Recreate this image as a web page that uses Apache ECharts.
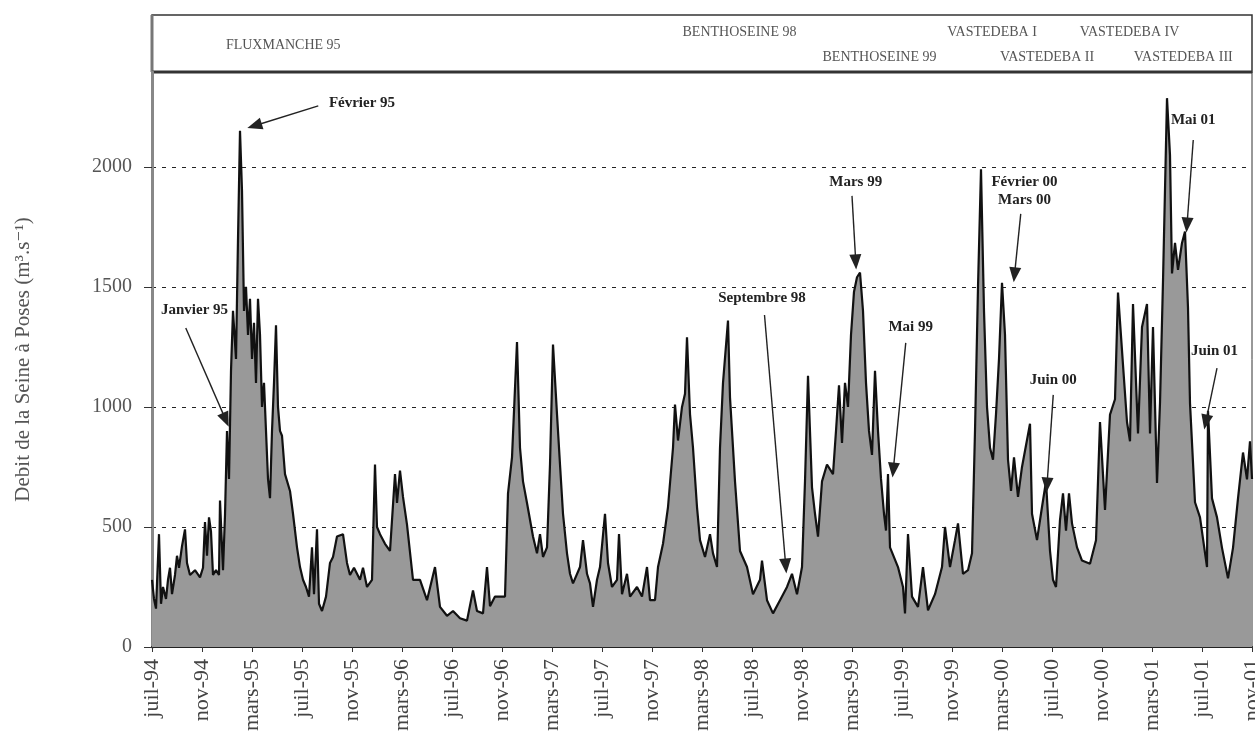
<!DOCTYPE html>
<html><head><meta charset="utf-8">
<script src="https://cdn.jsdelivr.net/npm/echarts@6/dist/echarts.min.js"></script>
<style>html,body{margin:0;padding:0;background:#fff}#c{width:1255px;height:733px}</style>
</head><body><div id="c"></div>
<script>
// x: months since July 1994 ; y: discharge of the Seine at Poses (m3/s)
const tickLabels = ['juil-94','nov-94','mars-95','juil-95','nov-95','mars-96','juil-96','nov-96','mars-97','juil-97','nov-97','mars-98','juil-98','nov-98','mars-99','juil-99','nov-99','mars-00','juil-00','nov-00','mars-01','juil-01','nov-01'];
const yTicks = [0, 500, 1000, 1500, 2000];

const months = [
0.00,0.16,0.32,0.56,0.72,0.88,1.12,1.28,1.44,1.60,1.84,2.00,2.16,2.40,2.64,2.80,3.04,3.44,3.84,4.08,4.24,4.40,4.56,4.72,4.88,5.12,5.36,5.44,5.68,5.84,
6.00,6.16,6.32,6.48,6.72,6.88,7.04,7.20,7.36,7.52,7.68,7.84,8.00,8.16,8.32,8.48,8.64,8.80,8.96,9.12,9.28,9.44,9.60,9.76,9.92,10.08,10.24,10.40,10.64,11.04,
11.28,11.60,11.84,12.08,12.32,12.56,12.80,12.96,13.20,13.36,13.60,13.92,14.24,14.48,14.80,15.28,15.60,15.84,16.16,16.64,16.88,17.20,17.60,17.84,18.00,18.24,18.64,19.04,19.44,19.60,
19.84,20.08,20.40,20.88,21.44,22.00,22.64,23.04,23.60,24.08,24.64,25.20,25.68,26.00,26.48,26.80,27.04,27.44,28.24,28.48,28.80,29.20,29.44,29.68,30.00,30.48,30.80,31.04,31.28,31.60,
31.84,32.08,32.40,32.64,32.88,33.20,33.44,33.68,34.24,34.48,34.80,35.04,35.28,35.60,35.84,36.24,36.48,36.80,37.20,37.36,37.60,38.00,38.24,38.80,39.20,39.60,39.84,40.24,40.48,40.88,
41.28,41.68,41.84,42.08,42.40,42.64,42.80,43.04,43.28,43.60,43.84,44.24,44.64,44.88,45.20,45.44,45.68,46.08,46.24,46.64,47.04,47.60,48.08,48.64,48.80,49.20,49.68,50.24,50.80,51.20,
51.60,52.00,52.24,52.48,52.80,53.04,53.28,53.60,54.00,54.48,54.72,54.96,55.20,55.44,55.68,55.92,56.16,56.40,56.64,56.88,57.12,57.36,57.60,57.84,58.08,58.32,58.56,58.72,58.88,59.04,
59.68,60.08,60.24,60.48,60.80,61.28,61.68,62.08,62.64,63.20,63.44,63.84,64.24,64.48,64.88,65.28,65.60,65.84,66.08,66.32,66.56,66.80,67.04,67.28,67.52,67.76,68.00,68.24,68.48,68.72,
68.96,69.28,69.60,70.24,70.40,70.80,71.20,71.52,71.84,72.08,72.32,72.64,72.88,73.12,73.36,73.60,74.00,74.40,75.04,75.52,75.84,76.24,76.64,77.04,77.28,77.68,78.00,78.24,78.48,78.88,
79.20,79.60,79.84,80.08,80.40,80.64,80.88,81.20,81.44,81.60,81.84,82.08,82.40,82.64,82.88,83.04,83.44,83.84,84.40,84.48,84.80,85.20,85.60,86.08,86.48,86.88,87.28,87.60,87.84,88.00
];
const flow = [
280,200,160,470,180,250,200,280,330,220,300,380,330,420,490,350,300,320,290,330,520,380,540,480,300,320,300,610,320,550,
900,700,1150,1400,1200,1700,2150,1900,1400,1500,1300,1450,1200,1350,1100,1450,1300,1000,1100,900,700,620,900,1100,1340,1000,900,880,720,650,
555,415,333,280,250,210,415,220,490,180,150,210,350,375,460,470,350,300,330,280,330,250,280,760,500,470,430,400,720,600,
735,625,510,280,280,195,333,167,130,150,120,110,236,150,140,333,170,210,210,640,790,1270,830,690,600,460,390,470,375,415,
760,1260,970,760,555,390,305,265,333,445,305,265,167,280,333,555,350,250,280,470,220,305,210,250,210,333,195,195,333,430,
583,830,1010,860,1000,1055,1290,970,830,583,445,375,470,390,333,830,1100,1360,1040,690,400,333,220,280,360,195,140,195,250,305,
220,333,690,1130,665,555,460,690,760,720,900,1090,850,1100,1000,1300,1480,1540,1560,1400,1100,900,800,1150,900,700,555,485,720,415,
333,250,140,470,210,167,333,153,220,333,500,333,445,515,305,320,390,900,1500,1990,1400,1000,830,780,970,1200,1517,1300,780,650,
790,625,750,930,555,445,583,690,400,280,250,530,640,485,640,515,415,360,347,445,937,571,968,1032,1476,1175,937,857,1429,889,
1333,1429,889,1333,683,1016,1524,2286,2048,1556,1683,1571,1683,1730,1413,1016,603,540,333,984,619,540,413,286,413,619,810,698,857,700
];

// sampling campaigns shown in the top band
const campaignNames = ['FLUXMANCHE 95','BENTHOSEINE 98','VASTEDEBA I','VASTEDEBA IV','BENTHOSEINE 99','VASTEDEBA II','VASTEDEBA III'];
const campaignMonths = [10.5, 47.0, 67.2, 78.2, 58.2, 71.6, 82.5];
const campaignRows = [0, 1, 1, 1, 2, 2, 2];

// annotations: label, label anchor (month, flow), arrow start, arrow tip
const annLabels = ['Février 95','Janvier 95','Septembre 98','Mars 99','Mai 99','Février 00\nMars 00','Juin 00','Mai 01','Juin 01'];
const annText  = [[16.8,2267],[3.4,1404],[48.8,1454],[56.3,1937],[60.7,1333],[69.8,1900],[72.1,1112],[83.3,2196],[85.0,1233]];
const annFrom  = [[13.3,2254],[2.7,1329],[49.0,1383],[56.0,1879],[60.3,1267],[69.5,1804],[72.1,1050],[83.3,2112],[85.2,1162]];
const annTip   = [[8.2,2171],[5.9,946],[50.7,337],[56.3,1604],[59.3,737],[69.0,1550],[71.6,675],[82.8,1758],[84.3,937]];

const FONT = '"Liberation Serif","DejaVu Serif",serif';
const chart = echarts.init(document.getElementById('c'), null, {renderer: 'canvas'});

const seriesData = months.map((m, i) => [m, flow[i]]);
const markLines = annTip.map((tip, i) => [{coord: annFrom[i]}, {coord: tip}]);
const markPoints = annLabels.map((t, i) => ({
  coord: annText[i], value: t, symbol: 'circle', symbolSize: 0,
  label: {show: true, formatter: t, position: 'inside', fontFamily: FONT, fontWeight: 'bold',
          fontSize: 15, color: '#222', lineHeight: 18}
}));

chart.setOption({
  animation: false,
  backgroundColor: '#fff',
  grid: {left: 152, right: 3, top: 72, bottom: 86, show: true, borderColor: '#333', borderWidth: 1,
         containLabel: false, outerBoundsMode: 'none'},
  xAxis: {
    type: 'value', min: 0, max: 88, interval: 4,
    axisLine: {show: true, onZero: false, lineStyle: {color: '#222', width: 2}},
    axisTick: {show: true, length: 5, lineStyle: {color: '#333'}},
    splitLine: {show: false},
    axisLabel: {rotate: 90, margin: 12, fontFamily: FONT, fontSize: 22, color: '#444',
      formatter: v => tickLabels[Math.round(v / 4)] || ''}
  },
  yAxis: {
    type: 'value', min: 0, max: 2395, interval: 500,
    name: 'Debit de la Seine à Poses (m³.s⁻¹)', nameLocation: 'middle', nameGap: 118,
    nameTextStyle: {fontFamily: FONT, fontSize: 21, color: '#555'},
    axisLine: {show: true, lineStyle: {color: '#888', width: 3}},
    axisTick: {show: true, length: 8, lineStyle: {color: '#333'}},
    axisLabel: {showMaxLabel: false, margin: 20, fontFamily: FONT, fontSize: 20, color: '#555',
      formatter: v => (yTicks.indexOf(v) >= 0 ? String(v) : '')},
    splitLine: {show: true, lineStyle: {color: '#222', width: 1.2, type: [4, 6]}}
  },
  series: [{
    type: 'line', data: seriesData, showSymbol: false, symbol: 'none',
    lineStyle: {color: '#111', width: 2.2},
    areaStyle: {color: '#999999', opacity: 1},
    z: 2,
    markLine: {
      silent: true, symbol: ['none', 'triangle'], symbolSize: [12, 15],
      lineStyle: {color: '#222', width: 1.4, type: 'solid'},
      label: {show: false}, data: markLines, animation: false
    },
    markPoint: {silent: true, data: markPoints, animation: false}
  }]
});

// top band with the campaign names
const rowY = [45, 32, 57];
const g = [
  {type: 'rect', shape: {x: 152, y: 15, width: 1100, height: 57}, style: {fill: '#fff', stroke: '#333', lineWidth: 1.5}},
  {type: 'line', shape: {x1: 152, y1: 15, x2: 152, y2: 72}, style: {stroke: '#777', lineWidth: 3}},
  {type: 'line', shape: {x1: 152, y1: 72, x2: 1252, y2: 72}, style: {stroke: '#333', lineWidth: 3}}
];
campaignNames.forEach((n, i) => {
  const px = chart.convertToPixel({gridIndex: 0}, [campaignMonths[i], 0])[0];
  g.push({type: 'text', x: px, y: rowY[campaignRows[i]],
    style: {text: n, fill: '#555', font: '14px ' + FONT, textAlign: 'center', textVerticalAlign: 'middle'}});
});
chart.setOption({graphic: g});
</script></body></html>
